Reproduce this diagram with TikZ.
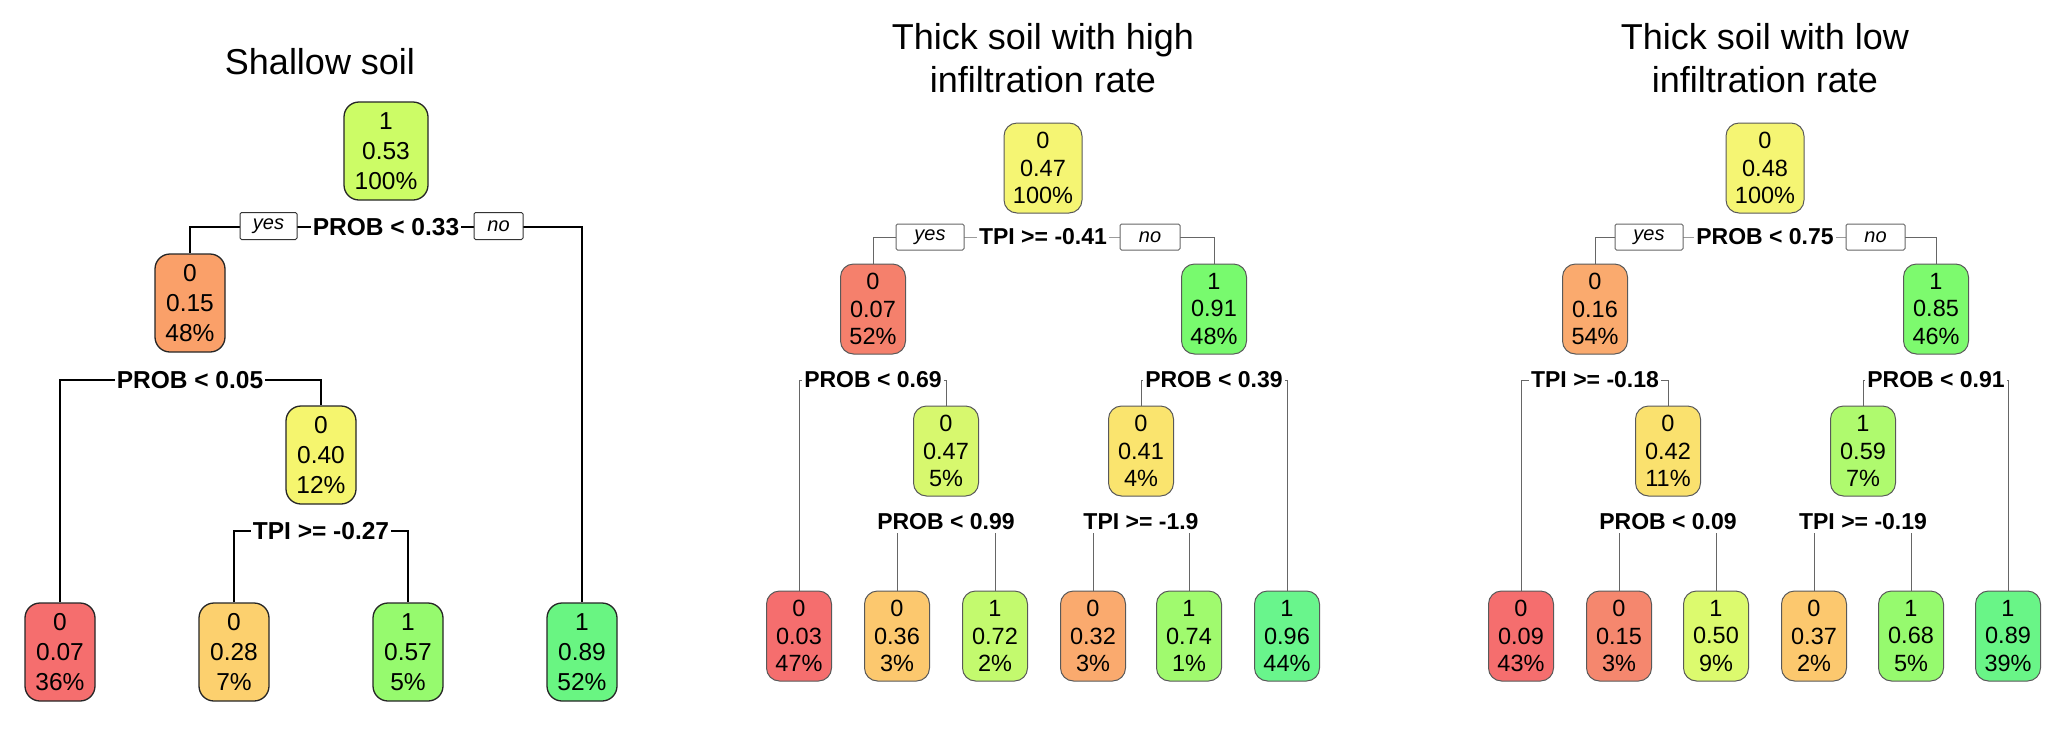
\documentclass[tikz,border=0pt]{standalone}
\usepackage{fontspec}
\setmainfont{Liberation Sans}
\usetikzlibrary{backgrounds}
% tree 1 colours
\definecolor{aRoot}{RGB}{204,252,102}
\definecolor{aN2}{RGB}{250,160,105}
\definecolor{aN4}{RGB}{245,245,110}
\definecolor{aL1}{RGB}{245,110,110}
\definecolor{aL2}{RGB}{252,208,110}
\definecolor{aL3}{RGB}{150,250,110}
\definecolor{aL4}{RGB}{105,245,130}
% tree 2 colours
\definecolor{bRoot}{RGB}{245,245,115}
\definecolor{bN2}{RGB}{245,128,108}
\definecolor{bN3}{RGB}{120,250,110}
\definecolor{bN4}{RGB}{215,248,110}
\definecolor{bN5}{RGB}{250,228,110}
\definecolor{bL1}{RGB}{245,110,110}
\definecolor{bL2}{RGB}{252,200,110}
\definecolor{bL3}{RGB}{195,250,110}
\definecolor{bL4}{RGB}{250,170,110}
\definecolor{bL5}{RGB}{160,250,110}
\definecolor{bL6}{RGB}{105,245,140}
% tree 3 colours
\definecolor{cRoot}{RGB}{245,245,115}
\definecolor{cN2}{RGB}{250,170,110}
\definecolor{cN3}{RGB}{125,250,110}
\definecolor{cN4}{RGB}{250,225,110}
\definecolor{cN5}{RGB}{175,250,110}
\definecolor{cL1}{RGB}{245,110,110}
\definecolor{cL2}{RGB}{245,135,110}
\definecolor{cL3}{RGB}{220,250,110}
\definecolor{cL4}{RGB}{252,200,110}
\definecolor{cL5}{RGB}{150,250,110}
\definecolor{cL6}{RGB}{105,245,135}
\begin{document}
\begin{tikzpicture}[x=1pt,y=-1pt,
  titlestyle/.style={align=center,inner sep=0pt,font=\fontsize{36}{43}\selectfont},
  boxA/.style={draw=black!85,line width=1.3pt,rounded corners=15pt,minimum width=70pt,minimum height=98pt,inner sep=0pt,align=center,font=\fontsize{24.5}{30}\selectfont},
  boxB/.style={draw=black!65,line width=1pt,rounded corners=13pt,minimum width=65pt,minimum height=90pt,inner sep=0pt,align=center,font=\fontsize{23.5}{27.5}\selectfont},
  splitA/.style={fill=white,inner sep=2pt,font=\bfseries\fontsize{24.5}{28}\selectfont},
  splitB/.style={fill=white,inner sep=2.5pt,font=\bfseries\fontsize{23}{27}\selectfont},
  ynA/.style={draw=black!80,line width=1pt,fill=white,rounded corners=1.5pt,minimum height=27pt,inner sep=0pt,font=\itshape\fontsize{20}{20}\selectfont},
  ynB/.style={draw=black!60,line width=1pt,fill=white,rounded corners=1.5pt,minimum height=26pt,inner sep=0pt,font=\itshape\fontsize{20}{20}\selectfont},
  edgeA/.style={draw=black,line width=1.3pt},
  edgeB/.style={draw=black!60,line width=1pt}]
\useasboundingbox (0,0) rectangle (2067,729);

% ---------------- Tree 1: Shallow soil ----------------
\node[titlestyle] (t1) at (320,62) {Shallow soil};
\node[boxA,fill=aRoot,minimum width=84pt] (a1) at (386,151) {1\\0.53\\100\%};
\node[splitA] (as1) at (386,227) {PROB < 0.33};
\node[ynA,minimum width=57pt] (ayes) at (268.5,226) {yes};
\node[ynA,minimum width=49pt] (ano) at (498.5,226) {no};
\node[boxA,fill=aN2] (a2) at (190,303) {0\\0.15\\48\%};
\node[splitA] (as2) at (190,380) {PROB < 0.05};
\node[boxA,fill=aN4] (a4) at (321,455) {0\\0.40\\12\%};
\node[splitA] (as4) at (321,531) {TPI >= -0.27};
\node[boxA,fill=aL1] (al1) at (60,652) {0\\0.07\\36\%};
\node[boxA,fill=aL2] (al2) at (234,652) {0\\0.28\\7\%};
\node[boxA,fill=aL3] (al3) at (408,652) {1\\0.57\\5\%};
\node[boxA,fill=aL4] (al4) at (582,652) {1\\0.89\\52\%};

% ---------------- Tree 2: high infiltration ----------------
\node[titlestyle] (t2) at (1043,58.5) {Thick soil with high\\infiltration rate};
\node[boxB,fill=bRoot,minimum width=78pt] (b1) at (1043,168) {0\\0.47\\100\%};
\node[splitB] (bs1) at (1043,237) {TPI >= -0.41};
\node[ynB,minimum width=68pt] (byes) at (930,237) {yes};
\node[ynB,minimum width=60pt] (bno) at (1150,237) {no};
\node[boxB,fill=bN2] (b2) at (873,309) {0\\0.07\\52\%};
\node[boxB,fill=bN3] (b3) at (1214,309) {1\\0.91\\48\%};
\node[splitB] (bs2) at (873,380) {PROB < 0.69};
\node[splitB] (bs3) at (1214,380) {PROB < 0.39};
\node[boxB,fill=bN4] (b4) at (946,451) {0\\0.47\\5\%};
\node[boxB,fill=bN5] (b5) at (1141,451) {0\\0.41\\4\%};
\node[splitB] (bs4) at (946,522) {PROB < 0.99};
\node[splitB] (bs5) at (1141,522) {TPI >= -1.9};
\node[boxB,fill=bL1] (bl1) at (799,636) {0\\0.03\\47\%};
\node[boxB,fill=bL2] (bl2) at (897,636) {0\\0.36\\3\%};
\node[boxB,fill=bL3] (bl3) at (995,636) {1\\0.72\\2\%};
\node[boxB,fill=bL4] (bl4) at (1093,636) {0\\0.32\\3\%};
\node[boxB,fill=bL5] (bl5) at (1189,636) {1\\0.74\\1\%};
\node[boxB,fill=bL6] (bl6) at (1287,636) {1\\0.96\\44\%};

% ---------------- Tree 3: low infiltration ----------------
\node[titlestyle] (t3) at (1765,58.5) {Thick soil with low\\infiltration rate};
\node[boxB,fill=cRoot,minimum width=78pt] (c1) at (1765,168) {0\\0.48\\100\%};
\node[splitB] (cs1) at (1765,237) {PROB < 0.75};
\node[ynB,minimum width=68pt] (cyes) at (1649,237) {yes};
\node[ynB,minimum width=59pt] (cno) at (1875.5,237) {no};
\node[boxB,fill=cN2] (c2) at (1595,309) {0\\0.16\\54\%};
\node[boxB,fill=cN3] (c3) at (1936,309) {1\\0.85\\46\%};
\node[splitB] (cs2) at (1595,380) {TPI >= -0.18};
\node[splitB] (cs3) at (1936,380) {PROB < 0.91};
\node[boxB,fill=cN4] (c4) at (1668,451) {0\\0.42\\11\%};
\node[boxB,fill=cN5] (c5) at (1863,451) {1\\0.59\\7\%};
\node[splitB] (cs4) at (1668,522) {PROB < 0.09};
\node[splitB] (cs5) at (1863,522) {TPI >= -0.19};
\node[boxB,fill=cL1] (cl1) at (1521,636) {0\\0.09\\43\%};
\node[boxB,fill=cL2] (cl2) at (1619,636) {0\\0.15\\3\%};
\node[boxB,fill=cL3] (cl3) at (1716,636) {1\\0.50\\9\%};
\node[boxB,fill=cL4] (cl4) at (1814,636) {0\\0.37\\2\%};
\node[boxB,fill=cL5] (cl5) at (1911,636) {1\\0.68\\5\%};
\node[boxB,fill=cL6] (cl6) at (2008,636) {1\\0.89\\39\%};

% ---------------- connectors (behind) ----------------
\begin{scope}[on background layer]
\fill[white] (0,0) rectangle (2067,729);
\draw[edgeA] (a2.north) |- (as1.center) -| (al4.north);
\draw[edgeA] (al1.north) |- (as2.center) -| (a4.north);
\draw[edgeA] (al2.north) |- (as4.center) -| (al3.north);

\draw[edgeB] (b2.north) |- (bs1.center) -| (b3.north);
\draw[edgeB] (bl1.north) |- (bs2.center) -| (b4.north);
\draw[edgeB] (b5.north) |- (bs3.center) -| (bl6.north);
\draw[edgeB] (bl2.north) |- (bs4.center) -| (bl3.north);
\draw[edgeB] (bl4.north) |- (bs5.center) -| (bl5.north);

\draw[edgeB] (c2.north) |- (cs1.center) -| (c3.north);
\draw[edgeB] (cl1.north) |- (cs2.center) -| (c4.north);
\draw[edgeB] (c5.north) |- (cs3.center) -| (cl6.north);
\draw[edgeB] (cl2.north) |- (cs4.center) -| (cl3.north);
\draw[edgeB] (cl4.north) |- (cs5.center) -| (cl5.north);
\end{scope}
\end{tikzpicture}
\end{document}
